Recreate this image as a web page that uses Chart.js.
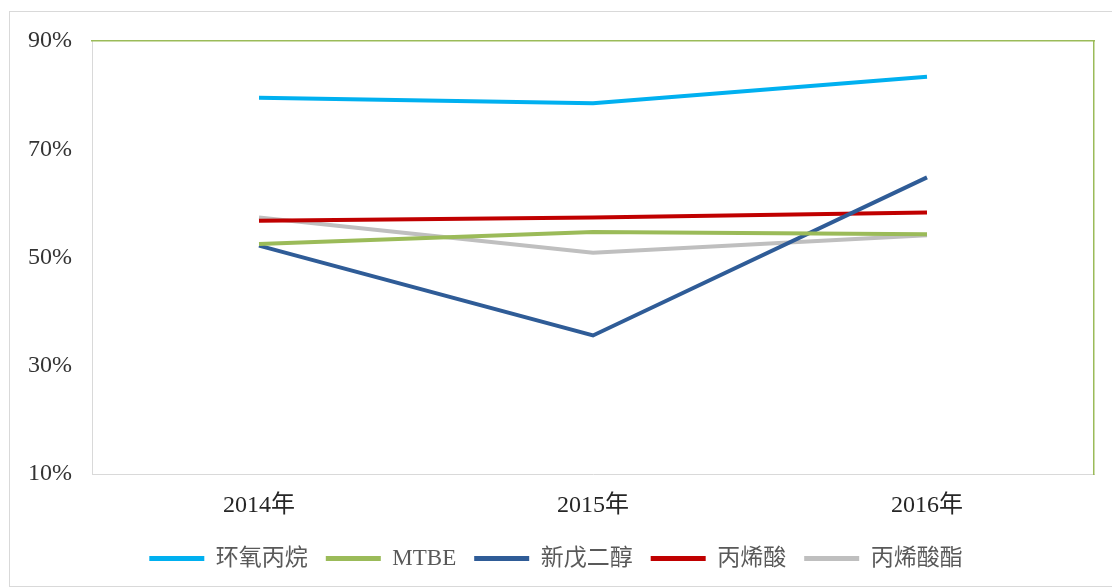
<!DOCTYPE html>
<html>
<head>
<meta charset="utf-8">
<script src="https://cdn.jsdelivr.net/npm/chart.js@4"></script>
<style>
  body { margin: 0; background: #fff; }
  .frame { position: absolute; left: 9px; top: 11px; width: 1110px; height: 574px; border: 1px solid #d9d9d9; }
  .box { position: absolute; left: 10px; top: 12px; width: 1102px; height: 574px; }
</style>
</head>
<body>
<div class="frame"></div>
<div class="box"><canvas id="lineChart"></canvas></div>
<script>
// chart data
const years = ['2014年', '2015年', '2016年'];
const epoxyPropane = [79.5, 78.5, 83.4];   // 环氧丙烷
const mtbe = [52.5, 54.7, 54.3];           // MTBE
const neopentylGlycol = [52.2, 35.6, 64.8]; // 新戊二醇
const acrylicAcid = [56.8, 57.4, 58.3];    // 丙烯酸
const acrylate = [57.4, 50.9, 54.1];       // 丙烯酸酯
const yTicks = [10, 30, 50, 70, 90];

const serif = "'Liberation Serif', 'Noto Sans CJK SC', serif";

const makeLine = (label, data, color) => ({
  label: label,
  data: data,
  borderColor: color,
  backgroundColor: color,
  borderWidth: 4,
  pointRadius: 0,
  tension: 0,
  xAxisID: 'x',
  yAxisID: 'y',
});

const ctx = document.getElementById('lineChart').getContext('2d');
new Chart(ctx, {
  type: 'line',
  data: {
    labels: years,
    datasets: [
      makeLine('环氧丙烷', epoxyPropane, '#00b0f0'),
      makeLine('MTBE', mtbe, '#9bbb59'),
      makeLine('新戊二醇', neopentylGlycol, '#2f5c97'),
      makeLine('丙烯酸', acrylicAcid, '#c00000'),
      makeLine('丙烯酸酯', acrylate, '#bfbfbf'),
    ],
  },
  options: {
    responsive: true,
    maintainAspectRatio: false,
    animation: false,
    layout: { padding: { left: 0, right: 10, top: 21, bottom: 6 } },
    scales: {
      x: {
        offset: true,
        grid: { display: false },
        border: { color: '#d9d9d9', width: 1 },
        ticks: { color: '#262626', padding: 9, font: { family: serif, size: 24 } },
        afterFit: (scale) => { scale.height = 55; },
      },
      y: {
        min: 10,
        max: 90,
        afterBuildTicks: (scale) => { scale.ticks = yTicks.map(v => ({ value: v })); },
        grid: { display: false },
        border: { color: '#d9d9d9', width: 1 },
        ticks: { color: '#333', padding: 12, font: { family: serif, size: 24 }, callback: (v) => v + '%' },
        afterFit: (scale) => { scale.width = 82; },
      },
      xTop: {
        type: 'linear',
        position: 'top',
        grid: { display: false },
        ticks: { display: false },
        border: { color: '#9bbb59', width: 1.5 },
      },
      yRight: {
        type: 'linear',
        position: 'right',
        grid: { display: false },
        ticks: { display: false },
        border: { color: '#9bbb59', width: 1.5 },
      },
    },
    plugins: {
      tooltip: { enabled: false },
      legend: {
        position: 'bottom',
        labels: {
          boxWidth: 55,
          boxHeight: 5,
          padding: 18,
          color: '#595959',
          font: { family: serif, size: 23 },
          generateLabels: (chart) =>
            Chart.defaults.plugins.legend.labels.generateLabels(chart).map(l => ({ ...l, lineWidth: 0 })),
        },
      },
    },
  },
});
</script>
</body>
</html>
